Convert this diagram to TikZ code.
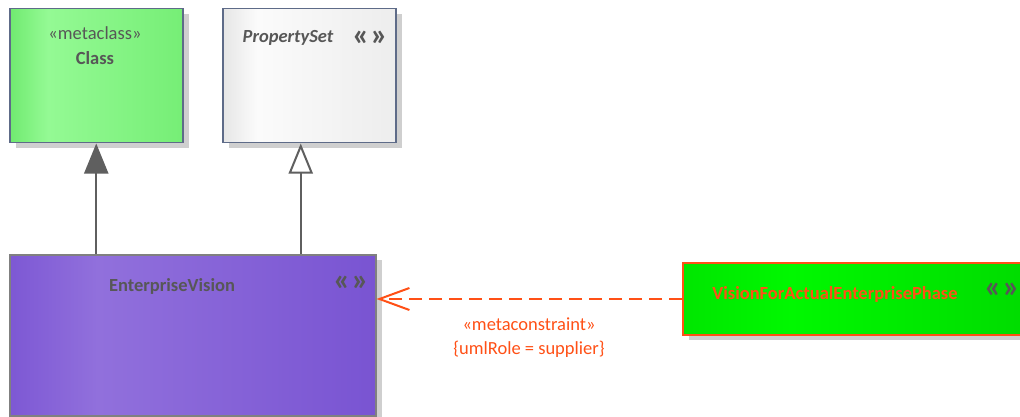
\documentclass[tikz,border=0pt]{standalone}
\usepackage{fontspec}
\setmainfont{Carlito}
\usetikzlibrary{arrows.meta,shadows}
\definecolor{gA}{HTML}{70EA70}\definecolor{gB}{HTML}{94FA94}\definecolor{gC}{HTML}{76EE76}
\definecolor{wA}{HTML}{E6E6E6}\definecolor{wB}{HTML}{FBFBFB}\definecolor{wC}{HTML}{EDEDED}
\definecolor{pA}{HTML}{7D58D4}\definecolor{pB}{HTML}{9170DC}\definecolor{pC}{HTML}{7954D2}
\definecolor{vA}{HTML}{00E600}\definecolor{vB}{HTML}{00F800}\definecolor{vC}{HTML}{00DA00}
\definecolor{bluegray}{HTML}{5E6B88}
\definecolor{txtgray}{HTML}{575757}
\definecolor{linegray}{HTML}{5F5F5F}
\definecolor{orng}{HTML}{FF5016}
\definecolor{hollow}{HTML}{F8F0EC}
\pgfdeclarehorizontalshading{greenshade}{100bp}{color(0bp)=(gA); color(25bp)=(gA); color(36bp)=(gB); color(75bp)=(gC); color(100bp)=(gC)}
\pgfdeclarehorizontalshading{whiteshade}{100bp}{color(0bp)=(wA); color(25bp)=(wA); color(35bp)=(wB); color(75bp)=(wC); color(100bp)=(wC)}
\pgfdeclarehorizontalshading{purpleshade}{100bp}{color(0bp)=(pA); color(25bp)=(pA); color(37bp)=(pB); color(75bp)=(pC); color(100bp)=(pC)}
\pgfdeclarehorizontalshading{vshade}{100bp}{color(0bp)=(vA); color(25bp)=(vA); color(40bp)=(vB); color(75bp)=(vC); color(100bp)=(vC)}
\tikzset{
  umlbox/.style={draw, line width=1.5pt, inner sep=0pt, anchor=north west,
    drop shadow={shadow xshift=6pt, shadow yshift=-5pt, fill=black!19, opacity=1}},
  lbl/.style={font=\fontsize{18.5}{22}\selectfont, text=txtgray, inner sep=0pt},
  icon/.style={font=\fontsize{32}{34}\selectfont\bfseries, text=txtgray, inner sep=0pt},
  gen/.style={draw=linegray, line width=2pt},
  olbl/.style={font=\fontsize{18.5}{22}\selectfont, text=orng, inner sep=0pt}
}
\begin{document}
\begin{tikzpicture}[x=1pt,y=-1pt]
\clip (0,0) rectangle (1020,417);
\fill[white] (0,0) rectangle (1020,417);
% boxes
\node[umlbox, draw=bluegray, shading=greenshade, minimum width=173pt, minimum height=134pt] (classBox) at (9,8) {};
\node[umlbox, draw=bluegray, shading=whiteshade, minimum width=173pt, minimum height=134pt] (propBox) at (222,8) {};
\node[umlbox, draw=gray, shading=purpleshade, minimum width=366pt, minimum height=161pt] (evBox) at (9,254) {};
\node[umlbox, draw=orng, line width=2pt, shading=vshade, minimum width=360pt, minimum height=72pt] (vfBox) at (682,262) {};
% texts
\node[lbl] (classSt) at (95,33) {«metaclass»};
\node[lbl, font=\fontsize{18.5}{22}\selectfont\bfseries] (className) at (95,58) {Class};
\node[lbl, font=\fontsize{18.5}{22}\selectfont\bfseries\itshape] (propName) at (288,38) {PropertySet};
\node[icon] (propIcon) at (370,38) {«\kern1pt»};
\node[lbl, font=\fontsize{18.5}{22}\selectfont\bfseries] (evName) at (172,286) {EnterpriseVision};
\node[icon] (evIcon) at (351,283) {«\kern1pt»};
\node[lbl, font=\fontsize{18.5}{22}\selectfont\bfseries, text=orng] (vfName) at (835,294) {VisionForActualEnterprisePhase};
\node[icon] (vfIcon) at (1002,290) {«\kern1pt»};
% connectors
\draw[gen, -{Triangle[length=30pt, width=24pt, fill=linegray]}]
  (classBox.south |- evBox.north) -- (classBox.south);
\draw[gen, -{Triangle[length=30pt, width=24pt, fill=hollow, open]}]
  ([xshift=-8.5pt]propBox.south |- evBox.north) -- ([xshift=-8.5pt]propBox.south);
\draw[draw=orng, line width=2pt, dash pattern=on 13pt off 7pt, -{Straight Barb[length=30pt, width=22pt, line width=2pt]}]
  (vfBox.west) -- (vfBox.west -| evBox.east);
\node[olbl] (mcSt) at (529,324) {«metaconstraint»};
\node[olbl] (mcRole) at (529,349) {\{umlRole = supplier\}};
\end{tikzpicture}
\end{document}
